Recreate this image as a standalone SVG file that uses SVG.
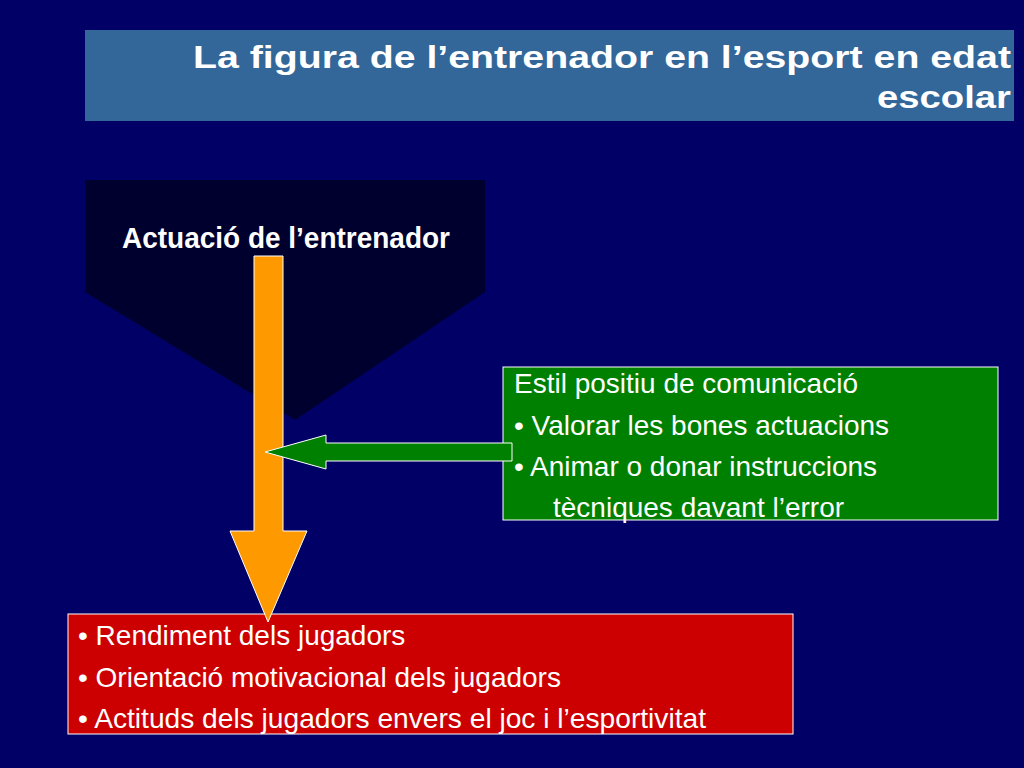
<svg xmlns="http://www.w3.org/2000/svg" width="1024" height="768" viewBox="0 0 1024 768">
<style>
text{font-family:"Liberation Sans",Arial,sans-serif;fill:#fff}
.t{font-weight:bold;font-size:32px}
.n{font-size:28px}
</style>
<rect width="1024" height="768" fill="#000066"/>
<g id="title"><rect x="85" y="30" width="929" height="91" fill="#336699"/>
<text class="t" x="193" y="68" textLength="818" lengthAdjust="spacingAndGlyphs">La figura de l’entrenador en l’esport en edat</text>
<text class="t" x="877" y="108" textLength="134" lengthAdjust="spacingAndGlyphs">escolar</text></g>
<g id="actuacio"><polygon points="85,180 485,180 485,292 295,420 85,292" fill="#00002e"/>
<text x="122" y="248" font-weight="bold" font-size="30" textLength="328" lengthAdjust="spacingAndGlyphs">Actuació de l’entrenador</text></g>
<g id="estil"><rect x="503" y="367" width="495" height="153" fill="#008000" stroke="#fff" stroke-width="1"/>
<text class="n" x="514" y="393" textLength="344" lengthAdjust="spacingAndGlyphs">Estil positiu de comunicació</text>
<text class="n" x="514" y="435">• Valorar les bones actuacions</text>
<text class="n" x="514" y="476">• Animar o donar instruccions</text>
<text class="n" x="553" y="517">tècniques davant l’error</text></g>
<g id="resultat"><rect x="68" y="614" width="725" height="120" fill="#cc0000" stroke="#fff" stroke-width="1"/>
<text class="n" x="78" y="645">• Rendiment dels jugadors</text>
<text class="n" x="78" y="687">• Orientació motivacional dels jugadors</text>
<text class="n" x="78" y="728" textLength="628" lengthAdjust="spacingAndGlyphs">• Actituds dels jugadors envers el joc i l’esportivitat</text></g>
<g id="connectors" stroke="#fff" stroke-width="1">
<polygon points="254,256 283,256 283,531 307,531 268,622 230,531 254,531" fill="#ff9900"/>
<polygon points="512,443 512,461 326,461 326,469 265,452 326,435 326,443" fill="#008000"/>
</g>
</svg>
